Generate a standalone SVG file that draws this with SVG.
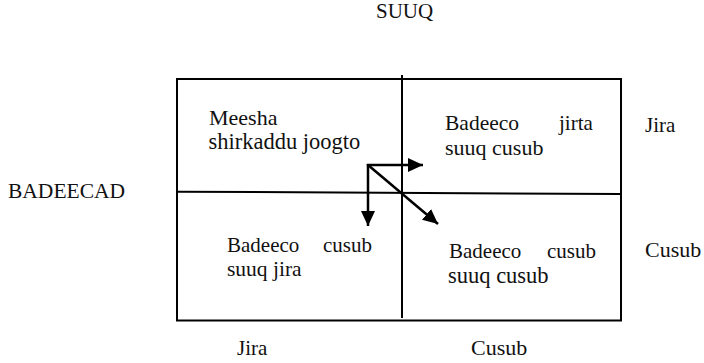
<svg xmlns="http://www.w3.org/2000/svg" width="704" height="363" viewBox="0 0 704 363">
<style>
.ln{stroke:#000;stroke-width:2;fill:none}
.ar{stroke:#000;stroke-width:2.5;fill:none}
</style>
<defs>
<marker id="ah" markerUnits="userSpaceOnUse" markerWidth="16" markerHeight="14" refX="15" refY="7" orient="auto">
<path d="M0,0 L15,7 L0,14 Z" fill="#000"/>
</marker>
</defs>
<rect width="704" height="363" fill="#fff"/>
<g id="matrix">
<rect class="ln" x="177" y="79" width="444" height="241.5"/>
<line class="ln" x1="177" y1="191.7" x2="621" y2="194"/>
<line class="ln" x1="402" y1="75" x2="402" y2="318"/>
</g>
<g id="axis-labels">
<text x="376" y="18" font-family="Liberation Serif" font-size="21" fill="#111">SUUQ</text>
<text x="8" y="198" font-family="Liberation Serif" font-size="21.5" fill="#111">BADEECAD</text>
<text x="645" y="131.7" font-family="Liberation Serif" font-size="21" fill="#111">Jira</text>
<text x="645" y="256.7" font-family="Liberation Serif" font-size="22" fill="#111">Cusub</text>
<text x="237" y="355" font-family="Liberation Serif" font-size="21" fill="#111">Jira</text>
<text x="471" y="355" font-family="Liberation Serif" font-size="22" fill="#111">Cusub</text>
</g>
<g id="cell-top-left">
<text x="209" y="125" font-family="Liberation Serif" font-size="22" fill="#111">Meesha</text>
<text x="208.5" y="149" font-family="Liberation Serif" font-size="22.5" fill="#111">shirkaddu joogto</text>
</g>
<g id="cell-top-right">
<text x="445" y="130" font-family="Liberation Serif" font-size="21.5" fill="#111">Badeeco</text>
<text x="559" y="130" font-family="Liberation Serif" font-size="21" fill="#111">jirta</text>
<text x="445" y="155" font-family="Liberation Serif" font-size="22" fill="#111">suuq cusub</text>
</g>
<g id="cell-bottom-left">
<text x="227" y="251.7" font-family="Liberation Serif" font-size="21" fill="#111">Badeeco</text>
<text x="323" y="251.7" font-family="Liberation Serif" font-size="21" fill="#111">cusub</text>
<text x="227" y="275.5" font-family="Liberation Serif" font-size="21.5" fill="#111">suuq jira</text>
</g>
<g id="cell-bottom-right">
<text x="449" y="257.5" font-family="Liberation Serif" font-size="21" fill="#111">Badeeco</text>
<text x="547" y="257.5" font-family="Liberation Serif" font-size="21" fill="#111">cusub</text>
<text x="448" y="283" font-family="Liberation Serif" font-size="22.5" fill="#111">suuq cusub</text>
</g>
<g id="connectors">
<line class="ar" x1="366.8" y1="165" x2="423" y2="165" marker-end="url(#ah)"/>
<line class="ar" x1="368" y1="164" x2="368" y2="226" marker-end="url(#ah)"/>
<line class="ar" x1="368" y1="165" x2="438" y2="224" marker-end="url(#ah)"/>
</g>
</svg>
